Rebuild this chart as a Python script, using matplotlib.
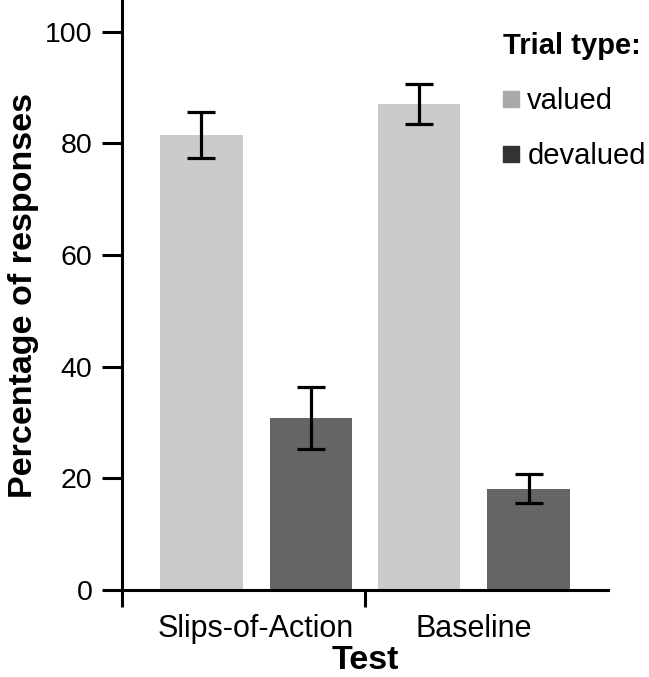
import matplotlib.pyplot as plt
import numpy as np
from matplotlib.lines import Line2D

plt.rcParams['font.family'] = ['Liberation Sans', 'DejaVu Sans']

tests = ['Slips-of-Action', 'Baseline']
valued = [81.5, 87.1]
valued_err = [4.1, 3.6]
devalued = [30.8, 18.1]
devalued_err = [5.6, 2.6]

fig = plt.figure(figsize=(6.49, 6.77), dpi=100)
ax = fig.add_axes([122 / 649, 87 / 677, 486 / 649, 590 / 677])

x = np.arange(len(tests))
w = 0.38
off = 0.252
err_kw = dict(ecolor='black', elinewidth=2.3, capsize=9.8, capthick=2.3)
ax.bar(x - off, valued, w, yerr=valued_err, color='#cbcbcb', error_kw=err_kw)
ax.bar(x + off, devalued, w, yerr=devalued_err, color='#656565', error_kw=err_kw)

ax.set_xlim(-0.615, 1.615)
ax.set_ylim(0, 105.7)
ax.set_yticks([0, 20, 40, 60, 80, 100])
ax.set_xticks([-0.615, 0.5])
ax.set_xticklabels([])
ax.set_xticks(x, minor=True)
ax.set_xticklabels(tests, minor=True)
ax.tick_params(axis='y', direction='out', length=14.4, width=2.2, labelsize=20.5, pad=7)
ax.tick_params(axis='x', which='major', direction='out', length=12, width=2.2)
ax.tick_params(axis='x', which='minor', length=0, labelsize=22, pad=17)

for s in ['top', 'right']:
    ax.spines[s].set_visible(False)
for s in ['left', 'bottom']:
    ax.spines[s].set_linewidth(2.2)

ax.set_ylabel('Percentage of responses', fontsize=24.5, fontweight='bold', labelpad=4)
ax.set_xlabel('Test', fontsize=24.5, fontweight='bold', labelpad=1)

handles = [
    Line2D([], [], marker='s', linestyle='none', color='#a9a9a9', markersize=11),
    Line2D([], [], marker='s', linestyle='none', color='#333333', markersize=11),
]
leg = ax.legend(handles, ['valued', 'devalued'], title='Trial type:',
                loc='upper right', bbox_to_anchor=(1.12, 0.98), frameon=False,
                fontsize=21, title_fontproperties={'weight': 'bold', 'size': 21},
                alignment='left', handlelength=0.6, handletextpad=0.25,
                labelspacing=0.92, borderpad=0.2)

fig.savefig('out.png', dpi=100)
